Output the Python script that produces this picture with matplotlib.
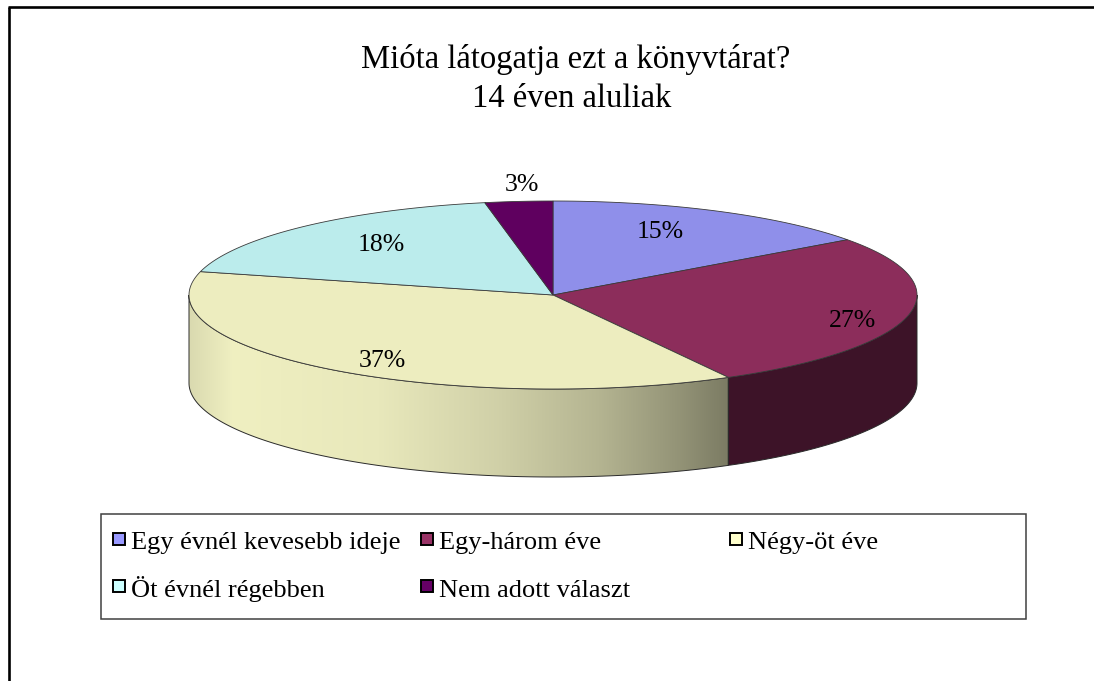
import numpy as np
import matplotlib
matplotlib.use("Agg")
import matplotlib.pyplot as plt
from matplotlib.patches import Polygon, Rectangle

# chart data
TITLE = ["Mióta látogatja ezt a könyvtárat?", "14 éven aluliak"]
categories = ["Egy évnél kevesebb ideje", "Egy-három éve", "Négy-öt éve",
              "Öt évnél régebben", "Nem adott választ"]
shares = [15, 27, 37, 18, 3]          # percent
top_colors = ["#8F8FEA", "#8C2D5B", "#EDEDBF", "#BBECEC", "#5F005F"]
legend_colors = ["#9999FF", "#993366", "#FFFFCC", "#CCFFFF", "#660066"]

# layout (pixels)
W, H = 1094, 681
CX, CY, RX, RY, DEPTH = 553, 295, 364, 94, 88
label_xy = [(660, 238), (852, 327), (382, 367), (381, 251), (522, 191)]
leg_x = [113, 421, 730, 113, 421]
leg_row = [0, 0, 0, 1, 1]
leg_top = [533, 580]
leg_base = [549, 597]
SERIF = ["Liberation Serif", "DejaVu Serif"]

# side shading across a wall (lit from the left); walls right of centre sit in shadow
shade_u = [0.0, 0.08, 0.35, 0.57, 0.76, 0.91, 1.0]
shade_v = [0.92, 1.01, 0.98, 0.88, 0.76, 0.62, 0.52]
SHADOW = 0.44


def rim(t, dy=0.0):
    return np.column_stack([CX + RX * np.cos(t), CY - RY * np.sin(t) + dy])


fig = plt.figure(figsize=(W / 100, H / 100), dpi=100)
ax = fig.add_axes([0, 0, 1, 1])
ax.set_xlim(0, W); ax.set_ylim(H, 0); ax.axis("off")

frac = np.array(shares, float) / sum(shares)
cum = np.concatenate([[0], np.cumsum(frac)])
t0s = np.pi / 2 - 2 * np.pi * cum[:-1]
t1s = np.pi / 2 - 2 * np.pi * cum[1:]

# front side walls
for i in range(len(shares)):
    lo, hi = max(t1s[i], -np.pi), min(t0s[i], 0.0)
    if lo >= hi:
        continue
    ts = np.linspace(hi, lo, 120)
    poly = np.vstack([rim(ts), rim(ts[::-1], DEPTH)])
    x0, x1 = poly[:, 0].min(), poly[:, 0].max()
    y0, y1 = poly[:, 1].min(), poly[:, 1].max()
    u = np.linspace(0, 1, 400)
    if x0 > CX:
        sh = np.full_like(u, SHADOW)
    else:
        sh = np.interp(u, shade_u, shade_v)
    base = np.array(matplotlib.colors.to_rgb(top_colors[i]))
    img = np.clip(base[None, :] * sh[:, None], 0, 1)
    patch = Polygon(poly, closed=True, facecolor="none", edgecolor="#2a2a2a", lw=0.7, zorder=3)
    ax.add_patch(patch)
    im = ax.imshow(img[None, :, :], extent=(x0, x1, y1, y0), aspect="auto", zorder=2,
                   interpolation="bilinear")
    im.set_clip_path(patch)

# top faces
for i in range(len(shares)):
    ts = np.linspace(t0s[i], t1s[i], 120)
    poly = np.vstack([[CX, CY], rim(ts)])
    ax.add_patch(Polygon(poly, closed=True, facecolor=top_colors[i],
                         edgecolor="#3a3a3a", lw=0.6, zorder=4))

for (x, y), s in zip(label_xy, shares):
    ax.text(x, y, f"{s}%", ha="center", va="baseline", fontsize=18.5,
            family=SERIF, color="black", zorder=6)

ax.set_xlim(0, W); ax.set_ylim(H, 0)

# title
ax.text(576, 68, TITLE[0], ha="center", va="baseline", fontsize=23.5, family=SERIF)
ax.text(572, 107, TITLE[1], ha="center", va="baseline", fontsize=23.5, family=SERIF)

# legend
ax.add_patch(Rectangle((101, 514), 925, 105, facecolor="white", edgecolor="#404040", lw=1.1, zorder=5))
for i, name in enumerate(categories):
    r = leg_row[i]
    ax.add_patch(Rectangle((leg_x[i], leg_top[r]), 12, 12, facecolor=legend_colors[i],
                           edgecolor="black", lw=1.4, zorder=6))
    ax.text(leg_x[i] + 18, leg_base[r], name, ha="left", va="baseline",
            fontsize=19, family=SERIF, zorder=6)

# outer frame (left and top only visible)
ax.plot([8.5, 8.5], [7, H], color="black", lw=1.9, solid_capstyle="butt")
ax.plot([7.5, W], [7, 7], color="black", lw=1.9, solid_capstyle="butt")

fig.savefig("out.png", dpi=100)
